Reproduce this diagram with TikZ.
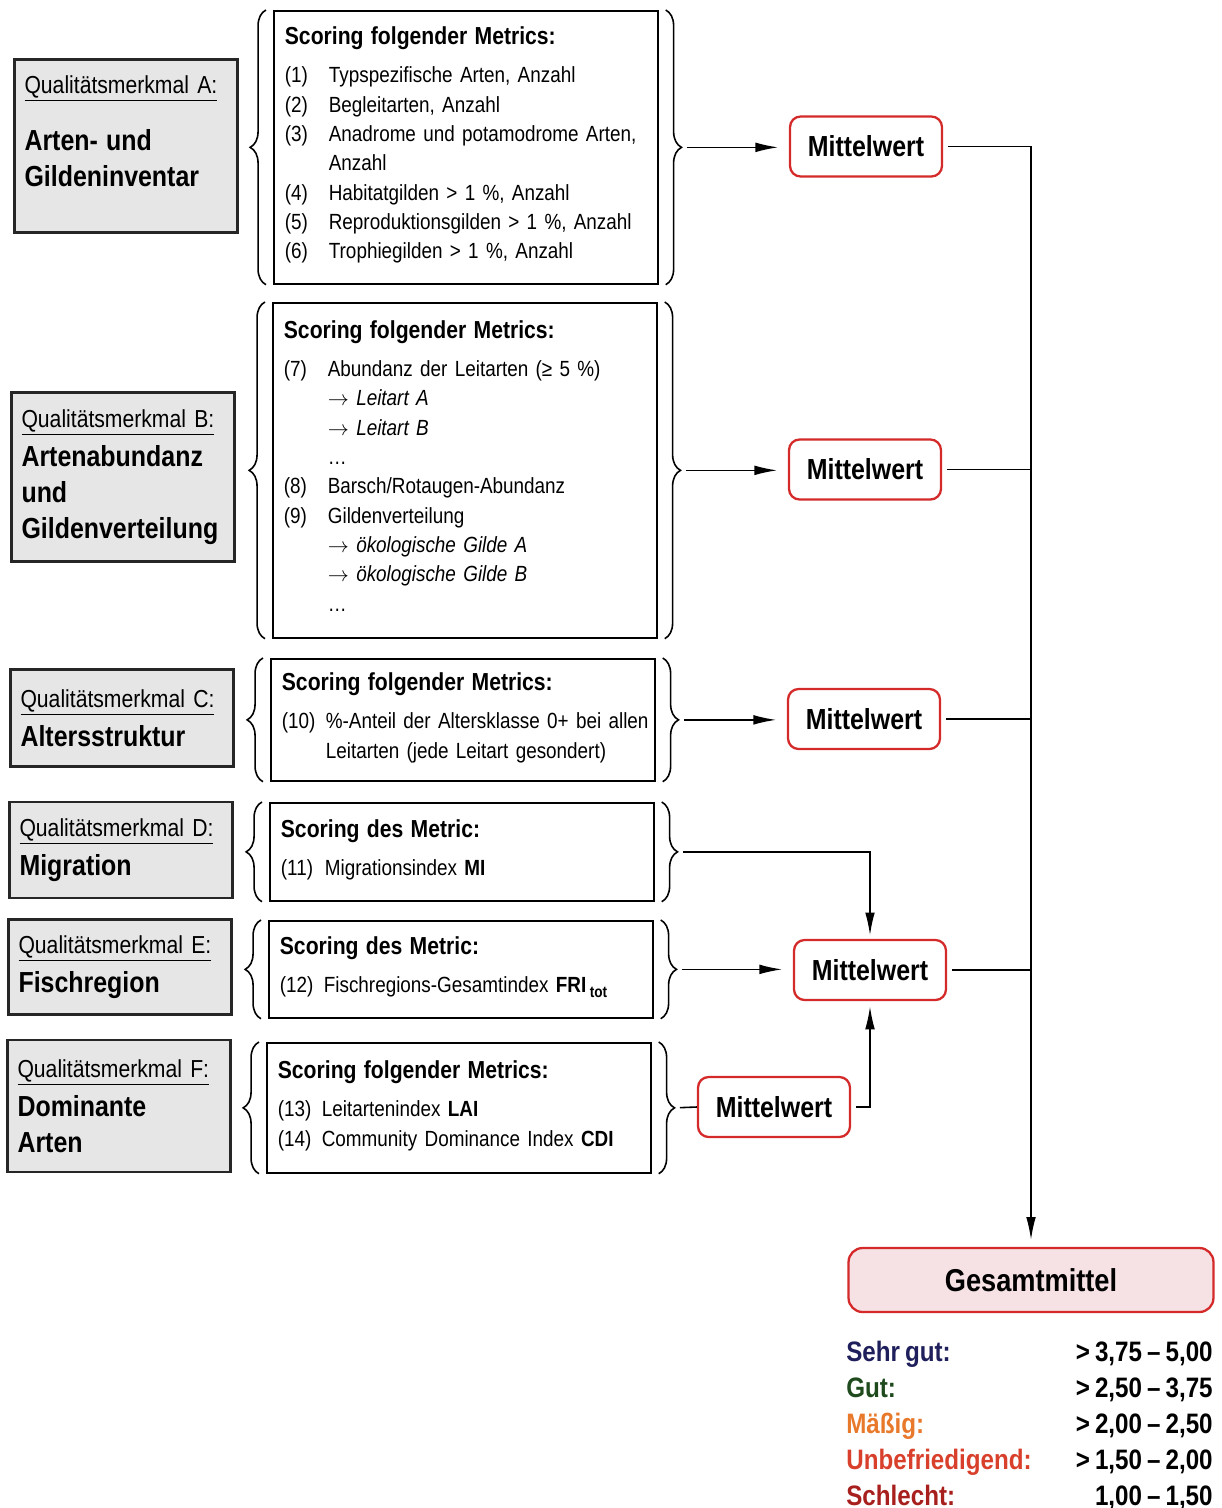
\documentclass[tikz,border=0pt]{standalone}
\usepackage{fontspec}
\setmainfont{Liberation Sans}[FakeStretch=0.86, WordSpace=0.75]
\usepackage{tikz}
\usetikzlibrary{arrows.meta,decorations.pathreplacing}

\definecolor{boxgray}{HTML}{E6E6E6}
\definecolor{boxred}{HTML}{D42A2A}
\definecolor{boxpink}{HTML}{F6E1E4}
\definecolor{sehrgut}{HTML}{1F1F5C}
\definecolor{gut}{HTML}{1E4A1E}
\definecolor{maessig}{HTML}{E8782A}
\definecolor{unbefr}{HTML}{D8402C}
\definecolor{schlecht}{HTML}{A8201E}

\newcommand{\titlefont}{\bfseries\fontsize{16.5}{20.4}\selectfont}
\newcommand{\headfont}{\bfseries\fontsize{14}{16.7}\selectfont}
\newcommand{\arr}{$\rightarrow$\ }

\tikzset{
  merkmal/.style={draw=black!85, line width=1.2pt, fill=boxgray, text width=4.06cm,
    inner xsep=0.2cm, align=left, font=\fontsize{14}{20.4}\selectfont},
  metricbox/.style={draw, line width=1pt, anchor=north west, text width=7.24cm,
    inner xsep=0.22cm, align=left, font=\fontsize{12.5}{16.7}\selectfont},
  mwbox/.style={draw=boxred, line width=1.3pt, rounded corners=6pt, fill=white,
    minimum width=3.04cm, minimum height=1.2cm, font=\bfseries\fontsize{16.5}{18}\selectfont},
  cbrace/.style={decorate, decoration={brace, amplitude=9pt}, line width=0.9pt},
  conn/.style={line width=0.9pt},
  legtext/.style={font=\bfseries\fontsize{16}{18}\selectfont, inner sep=0pt},
}

\begin{document}
\begin{tikzpicture}[x=0.02cm, y=-0.02cm, >={Latex[length=13pt,width=5.5pt]}]
\useasboundingbox (0,0) rectangle (1222,1508);

% Qualitaetsmerkmale
\node[merkmal, minimum height=3.46cm] (qA) at (126,146) {\underline{Qualitätsmerkmal A:}\\[12pt]{\titlefont Arten- und\\Gildeninventar}\\[-3pt]\mbox{}};
\node[merkmal, minimum height=3.38cm] (qB) at (123,477) {\underline{Qualitätsmerkmal B:}\\[2pt]{\titlefont Artenabundanz\\und\\Gildenverteilung}};
\node[merkmal, minimum height=1.94cm] (qC) at (122,718) {\underline{Qualitätsmerkmal C:}\\[2pt]{\titlefont Altersstruktur}};
\node[merkmal, minimum height=1.92cm] (qD) at (121,850) {\underline{Qualitätsmerkmal D:}\\[2pt]{\titlefont Migration}};
\node[merkmal, minimum height=1.90cm] (qE) at (120,967) {\underline{Qualitätsmerkmal E:}\\[2pt]{\titlefont Fischregion}};
\node[merkmal, minimum height=2.64cm] (qF) at (119,1106) {\underline{Qualitätsmerkmal F:}\\[2pt]{\titlefont Dominante\\Arten}};

% Metrics
\node[metricbox, minimum height=5.46cm] (mA) at (273,10) {{\headfont Scoring folgender Metrics:}\\[5pt]
  \begin{tabular}[t]{@{}p{0.88cm}@{}l@{}}
  (1) & Typspezifische Arten, Anzahl\\
  (2) & Begleitarten, Anzahl\\
  (3) & Anadrome und potamodrome Arten,\\
      & Anzahl\\
  (4) & Habitatgilden > 1 \%, Anzahl\\
  (5) & Reproduktionsgilden > 1 \%, Anzahl\\
  (6) & Trophiegilden > 1 \%, Anzahl
  \end{tabular}};
\node[metricbox, minimum height=6.70cm] (mB) at (272,302) {{\headfont Scoring folgender Metrics:}\\[5pt]
  \begin{tabular}[t]{@{}p{0.88cm}@{}l@{}}
  (7) & Abundanz der Leitarten (≥ 5 \%)\\
      & \arr\textit{Leitart A}\\
      & \arr\textit{Leitart B}\\
      & …\\
  (8) & Barsch/Rotaugen-Abundanz\\
  (9) & Gildenverteilung\\
      & \arr\textit{ökologische Gilde A}\\
      & \arr\textit{ökologische Gilde B}\\
      & …
  \end{tabular}};
\node[metricbox, minimum height=2.44cm] (mC) at (270,658) {{\headfont Scoring folgender Metrics:}\\[5pt]
  \begin{tabular}[t]{@{}p{0.88cm}@{}l@{}}
  (10) & \%-Anteil der Altersklasse 0+ bei allen\\
       & Leitarten (jede Leitart gesondert)
  \end{tabular}};
\node[metricbox, minimum height=1.96cm] (mD) at (269,802) {{\headfont Scoring des Metric:}\\[5pt]
  \begin{tabular}[t]{@{}p{0.88cm}@{}l@{}}
  (11) & Migrationsindex \textbf{MI}
  \end{tabular}};
\node[metricbox, minimum height=1.94cm] (mE) at (268,920) {{\headfont Scoring des Metric:}\\[5pt]
  \begin{tabular}[t]{@{}p{0.88cm}@{}l@{}}
  (12) & Fischregions-Gesamtindex \textbf{FRI}\,\raisebox{-0.4ex}{\bfseries\fontsize{9}{10}\selectfont tot}
  \end{tabular}};
\node[metricbox, minimum height=2.60cm] (mF) at (266,1042) {{\headfont Scoring folgender Metrics:}\\[5pt]
  \begin{tabular}[t]{@{}p{0.88cm}@{}l@{}}
  (13) & Leitartenindex \textbf{LAI}\\
  (14) & Community Dominance Index \textbf{CDI}
  \end{tabular}};

% Klammern
\foreach \m in {mA,mB,mC,mD,mE,mF} {
  \draw[cbrace] ([xshift=-4pt]\m.south west) -- ([xshift=-4pt]\m.north west);
  \draw[cbrace] ([xshift=4pt]\m.north east) -- ([xshift=4pt]\m.south east);
}

% Mittelwerte
\node[mwbox] (mw1) at (866,146.5) {Mittelwert};
\node[mwbox] (mw2) at (865,469.5) {Mittelwert};
\node[mwbox] (mw3) at (864,719) {Mittelwert};
\node[mwbox] (mw4) at (870,970) {Mittelwert};
\node[mwbox] (mw5) at (774,1107) {Mittelwert};

\node[draw=boxred, line width=1.3pt, rounded corners=8pt, fill=boxpink, minimum width=7.3cm,
  minimum height=1.28cm, font=\bfseries\fontsize{18}{20}\selectfont] (gm) at (1031,1280) {Gesamtmittel};

\draw[conn, ->, shorten <=3pt, shorten >=6pt] ([xshift=13pt]mA.east) -- (mA.east -| mw1.west);
\draw[conn, ->, shorten <=3pt, shorten >=6pt] ([xshift=13pt]mB.east) -- (mB.east -| mw2.west);
\draw[conn, ->, shorten <=3pt, shorten >=6pt] ([xshift=13pt]mC.east) -- (mC.east -| mw3.west);
\draw[conn, ->, shorten <=3pt, shorten >=2pt] ([xshift=13pt]mD.east) -| (mw4.north);
\draw[conn, ->, shorten <=3pt, shorten >=6pt] ([xshift=13pt]mE.east) -- (mE.east -| mw4.west);
\draw[conn, shorten <=3pt] ([xshift=13pt]mF.east) -- (mw5.west);
\draw[conn, ->, shorten <=3pt, shorten >=3pt] (mw5.east) -| (mw4.south);

\draw[conn, ->, shorten <=3pt, shorten >=4pt] (mw1.east) -| (gm.north);
\draw[conn, shorten <=3pt] (mw2.east) -- (mw2.east -| gm.north);
\draw[conn, shorten <=3pt] (mw3.east) -- (mw3.east -| gm.north);
\draw[conn, shorten <=3pt] (mw4.east) -- (mw4.east -| gm.north);

% Bewertung
\foreach \lbl/\val/\col [count=\i] in {Sehr gut:/{> 3,75 -- 5,00}/sehrgut, Gut:/{> 2,50 -- 3,75}/gut,
    Mäßig:/{> 2,00 -- 2,50}/maessig, Unbefriedigend:/{> 1,50 -- 2,00}/unbefr, Schlecht:/{1,00 -- 1,50}/schlecht} {
  \node[legtext, text=\col, anchor=base west] (leg\i) at (846,1325+36*\i) {\lbl};
  \node[legtext, anchor=base east] (val\i) at (1213,1325+36*\i) {\val};
}
\end{tikzpicture}
\end{document}
